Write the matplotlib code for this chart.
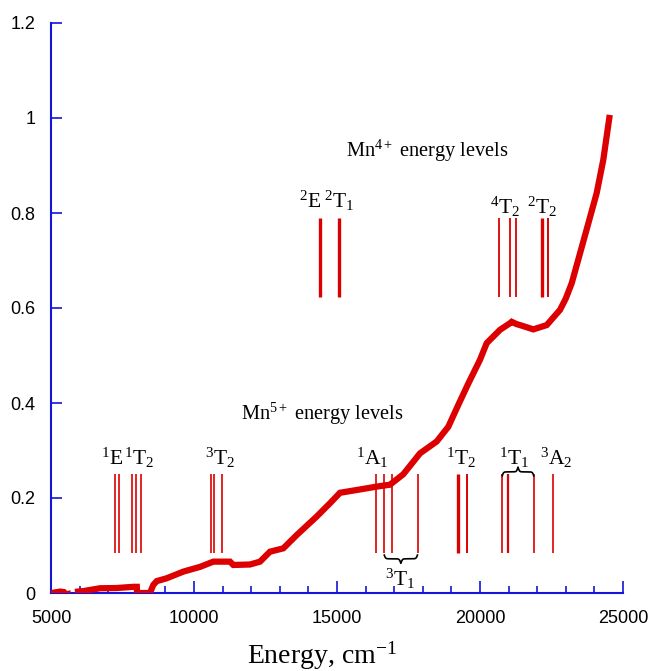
import matplotlib
matplotlib.use("Agg")
import matplotlib.pyplot as plt
import numpy as np
from matplotlib.ticker import MultipleLocator, FuncFormatter

plt.rcParams['font.family'] = ['Liberation Sans', 'DejaVu Sans']
plt.rcParams['mathtext.fontset'] = 'custom'
plt.rcParams['mathtext.rm'] = 'Liberation Serif'
plt.rcParams['mathtext.it'] = 'Liberation Serif:italic'
plt.rcParams['mathtext.bf'] = 'Liberation Serif:bold'

# absorption spectrum, nan = gap in trace
energy = [5024, 5315, 5450, 5524, 5594, np.nan,
          5944, 6129, 6713, 7297, 7878, 8000, 8007, 8460, 8577, 8696, 9045,
          9626, 10210, 10675, 11259, 11374, 11958, 12308, 12657, 13122,
          13591, 14290, 14755, 15105, 15804, 16388, 16853, 17318, 17902,
          18486, 18892, 19241, 19591, 20000, 20234, 20699, 21049, 21108,
          21283, 21399, 21864, 22332, 22797, 23000, 23206, 23497, 23787, 24080,
          24311, 24521]
absorb = [0.0, 0.003, 0.002, -0.003, -0.002, np.nan,
          0.003, 0.004, 0.010, 0.0105, 0.013, 0.013, 0.0, 0.0, 0.017, 0.025, 0.031,
          0.045, 0.055, 0.066, 0.066, 0.059, 0.060, 0.066, 0.087, 0.094,
          0.122, 0.161, 0.189, 0.211, 0.218, 0.224, 0.228, 0.250, 0.294,
          0.319, 0.350, 0.396, 0.441, 0.491, 0.526, 0.554, 0.568, 0.571,
          0.566, 0.564, 0.555, 0.564, 0.596, 0.620, 0.652, 0.715, 0.778, 0.842,
          0.912, 1.0]

# Mn5+ levels (cm-1) and line widths
mn5_levels = [7248, 7367, 7832, 7983, 8136, 10594, 10699, 10979,
              16374, 16643, 16923, 17822, 19220, 19535,
              20769, 20979, 21888, 22542]
mn5_lw = [1.2, 1.2, 1.2, 1.2, 1.2, 1.2, 1.2, 1.2,
          1.2, 1.2, 1.2, 1.2, 2.4, 1.4,
          1.2, 1.6, 1.2, 1.2]
mn5_labels = ['$^{1}\\mathrm{E}$', '$^{1}\\mathrm{T}_{2}$', '$^{3}\\mathrm{T}_{2}$',
              '$^{1}\\mathrm{A}_{1}$', '$^{1}\\mathrm{T}_{2}$', '$^{1}\\mathrm{T}_{1}$',
              '$^{3}\\mathrm{A}_{2}$']
mn5_label_x = [7133, 8077, 10909, 16224, 19336, 21189, 22657]

# Mn4+ levels
mn4_levels = [14406, 15080, 20654, 21038, 21259, 22178, 22367]
mn4_lw = [2.4, 2.4, 1.3, 1.3, 1.3, 2.4, 1.4]
mn4_labels = ['$^{2}\\mathrm{E}$', '$^{2}\\mathrm{T}_{1}$',
              '$^{4}\\mathrm{T}_{2}$', '$^{2}\\mathrm{T}_{2}$']
mn4_label_x = [14056, 15087, 20874, 22168]
mn4_label_y = [0.811, 0.811, 0.798, 0.798]

red = '#dd0000'
blue = '#1414dc'


def brace(ax, x0, x1, y_end, y_tip, color='k', lw=1.2):
    # curly brace between x0 and x1, ends at y_end, tip at y_tip
    t = np.linspace(0, 0.5, 200)
    beta = 45.0
    half = 1 / (1 + np.exp(-beta * t)) + 1 / (1 + np.exp(-beta * (t - 0.5)))
    half = (half - half[0]) / (half[-1] - half[0])
    shape = np.concatenate([half, half[::-1][1:]])
    xs = np.linspace(x0, x1, len(shape))
    ys = y_end + (y_tip - y_end) * shape
    ax.plot(xs, ys, color=color, lw=lw, solid_capstyle='butt')


fig = plt.figure(figsize=(6.49, 6.71), dpi=100)
ax = fig.add_axes([51 / 649, 78 / 671, 572 / 649, 570 / 671])

ax.vlines(mn5_levels, 0.084, 0.25, colors=red, linewidths=mn5_lw)
ax.vlines(mn4_levels, 0.624, 0.789, colors=red, linewidths=mn4_lw)

ax.plot(energy, absorb, color=red, lw=4.5, solid_joinstyle='miter', zorder=3)

serif = ['Liberation Serif', 'DejaVu Serif']
for lab, x in zip(mn5_labels, mn5_label_x):
    ax.text(x, 0.27, lab, ha='center', va='baseline', fontsize=15.5, family=serif)
for lab, x, y in zip(mn4_labels, mn4_label_x, mn4_label_y):
    ax.text(x, y, lab, ha='center', va='baseline', fontsize=15.5, family=serif)

ax.text(17200, 0.015, '$^{3}\\mathrm{T}_{1}$', ha='center', va='baseline',
        fontsize=15.5, family=serif)
brace(ax, mn5_levels[9], mn5_levels[11], 0.0815, 0.0625)
brace(ax, mn5_levels[14], mn5_levels[16], 0.245, 0.265)

ax.text(14476, 0.364, 'Mn$^{5+}$ energy levels', ha='center', va='baseline',
        fontsize=14.7, family=serif)
ax.text(18147, 0.918, 'Mn$^{4+}$ energy levels', ha='center', va='baseline',
        fontsize=14.7, family=serif)

ax.set_xlim(5000, 25000)
ax.set_ylim(0, 1.2)
ax.xaxis.set_major_locator(MultipleLocator(5000))
ax.xaxis.set_minor_locator(MultipleLocator(1000))
ax.yaxis.set_major_locator(MultipleLocator(0.2))
ax.yaxis.set_major_formatter(FuncFormatter(lambda v, p: '%g' % round(v, 2)))

for s in ['top', 'right']:
    ax.spines[s].set_visible(False)
for s in ['left', 'bottom']:
    ax.spines[s].set_color(blue)
    ax.spines[s].set_linewidth(1.5)

ax.tick_params(axis='x', which='major', direction='in', length=9, width=1.2,
               color=blue, labelsize=13, pad=12)
ax.tick_params(axis='x', which='minor', direction='in', length=5.3, width=1.2,
               color=blue)
ax.tick_params(axis='y', which='major', direction='in', length=8, width=1.2,
               color=blue, labelsize=13, pad=11)

ax.set_xlabel('Energy, cm$^{-1}$', fontsize=20, family=serif)
ax.xaxis.set_label_coords(0.474, -0.082)

fig.savefig('out.png', dpi=100)
